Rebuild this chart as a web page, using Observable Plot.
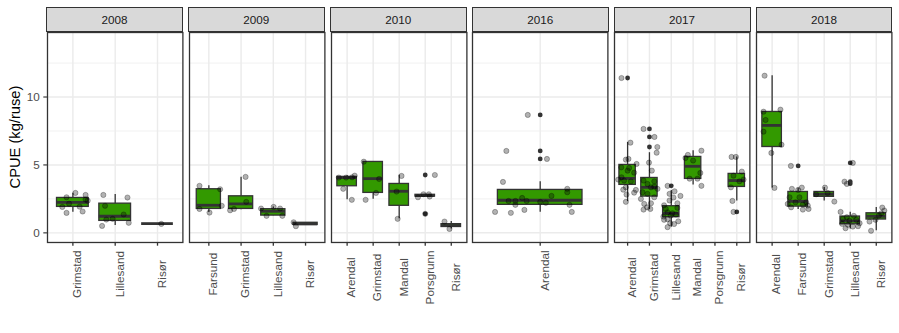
<!DOCTYPE html>
<html><head><meta charset="utf-8">
<script src="https://cdn.jsdelivr.net/npm/d3@7"></script>
<script src="https://cdn.jsdelivr.net/npm/@observablehq/plot@0.6"></script>
<style>
body{margin:0;background:#fff;}
#chart{position:relative;width:899px;height:333px;overflow:hidden;font-family:"Liberation Sans",Arial,sans-serif;}
.strip{position:absolute;box-sizing:border-box;background:#d9d9d9;border:1.4px solid #333;color:#1a1a1a;font-size:11.7px;display:flex;align-items:center;justify-content:center;}
#chart svg{position:absolute;}
.ytitle{position:absolute;left:15px;top:137px;transform:translate(-50%,-50%) rotate(-90deg);white-space:nowrap;font-size:14.7px;color:#000;}
</style></head><body><div id="chart"></div>
<script>
// ---- data ----
const years = ["2008", "2009", "2010", "2016", "2017", "2018"];
const yTicks = [0, 5, 10];
const yMinorTicks = [2.5, 7.5, 12.5];
const yTitle = "CPUE (kg/ruse)";

const sites2008 = ["Grimstad", "Lillesand", "Risør"];
const sites2009 = ["Farsund", "Grimstad", "Lillesand", "Risør"];
const sites2010 = ["Arendal", "Grimstad", "Mandal", "Porsgrunn", "Risør"];
const sites2016 = ["Arendal"];
const sites2017 = ["Arendal", "Grimstad", "Lillesand", "Mandal", "Porsgrunn", "Risør"];
const sites2018 = ["Arendal", "Farsund", "Grimstad", "Lillesand", "Risør"];

// box stats: [site, lower whisker, q1, median, q3, upper whisker]
const box2008 = [["Grimstad",1.51,1.91,2.25,2.57,2.91],["Lillesand",0.54,0.88,1.22,2.15,2.82],["Risør",0.68,0.68,0.68,0.68,0.68]];
const box2009 = [["Farsund",1.49,1.76,2.03,3.21,3.46],["Grimstad",1.70,1.76,2.13,2.69,4.09],["Lillesand",1.25,1.27,1.59,1.74,1.91],["Risør",0.58,0.58,0.66,0.74,0.74]];
const box2010 = [["Arendal",2.43,3.43,4.07,4.12,4.21],["Grimstad",2.47,2.94,3.99,5.22,5.24],["Mandal",1.03,1.99,3.06,3.60,4.24],["Porsgrunn",2.62,2.67,2.74,2.80,2.84],["Risør",0.29,0.43,0.54,0.64,0.83]];
const box2016 = [["Arendal",1.51,2.06,2.40,3.16,3.77]];
const box2017 = [["Arendal",2.30,3.53,4.01,5.00,6.66],["Grimstad",1.71,2.67,3.35,4.04,5.90],["Lillesand",0.42,1.15,1.44,1.96,3.11],["Mandal",3.53,3.97,4.90,5.59,6.05],["Risør",2.35,3.38,3.85,4.34,5.59]];
const box2018 = [["Arendal",3.31,6.32,7.91,8.90,11.57],["Farsund",1.71,1.93,2.32,3.01,3.28],["Grimstad",2.35,2.65,2.84,3.01,3.33],["Lillesand",0.29,0.63,0.88,1.20,1.51],["Risør",0.15,0.98,1.22,1.44,1.86]];

// outliers: [site, value]
const out2008 = [];
const out2009 = [];
const out2010 = [["Porsgrunn",4.26],["Porsgrunn",1.40]];
const out2016 = [["Arendal",8.68],["Arendal",6.03],["Arendal",5.44]];
const out2017 = [["Arendal",11.40],["Grimstad",7.65],["Grimstad",7.06],["Grimstad",6.32],["Lillesand",3.46],["Risør",1.54]];
const out2018 = [["Farsund",4.93],["Lillesand",5.15],["Lillesand",3.77],["Lillesand",3.62]];

// jittered observations: [site, [[value, jitter offset (category units)], ...]]
const pts2008 = [
 ["Grimstad",[[1.91,-0.25],[1.47,-0.15],[2.62,-0.15],[2.15,-0.09],[2.94,0.06],[1.93,0.16],[1.57,0.23],[2.79,0.30],[2.45,0.30],[2.37,0.35]]],
 ["Lillesand",[[2.79,-0.28],[1.99,-0.24],[0.98,-0.21],[0.51,-0.31],[1.03,-0.06],[1.35,0.20],[2.60,0.29],[0.74,0.32]]],
 ["Risør",[[0.66,0.09]]]
];
const pts2009 = [
 ["Farsund",[[3.46,-0.29],[1.76,-0.29],[1.49,0.02],[3.21,0.35],[1.99,0.40]]],
 ["Grimstad",[[4.12,0.14],[2.28,0.16],[1.66,-0.34],[1.76,-0.22]]],
 ["Lillesand",[[1.91,0.01],[1.79,0.21],[1.79,-0.38],[1.25,-0.21],[1.25,0.28]]],
 ["Risør",[[0.78,-0.37],[0.49,-0.30]]]
];
const pts2010 = [
 ["Arendal",[[4.07,-0.32],[4.07,-0.04],[4.09,0.19],[4.21,0.29],[3.24,-0.15],[2.43,0.18]]],
 ["Grimstad",[[5.24,-0.36],[3.97,0.23],[2.94,0.11],[2.43,-0.29]]],
 ["Mandal",[[4.19,0.09],[3.04,-0.10],[1.03,-0.06]]],
 ["Porsgrunn",[[2.62,-0.28],[2.84,-0.07],[2.84,0.14],[2.67,0.17],[4.26,0.37],[1.40,0.0]]],
 ["Risør",[[0.83,-0.26],[0.29,-0.07]]]
];
const pts2016 = [
 ["Arendal",[[8.68,-0.11],[6.03,-0.30],[5.44,0.06],[3.75,-0.33],[3.24,0.24],[2.99,0.24],[2.72,0.10],[2.57,-0.16],[2.35,-0.28],[2.35,-0.22],[2.35,-0.12],[2.28,0.0],[2.21,0.05],[2.06,-0.22],[2.06,0.26],[1.54,-0.40],[1.47,-0.26],[1.69,-0.14],[1.54,0.28]]]
];
const pts2017 = [
 ["Arendal",[[11.4,-0.28],[6.64,0.13],[5.44,0.04],[5.39,-0.08],[5.07,0.41],[4.82,-0.29],[4.78,0.07],[4.58,0],[4.43,0.30],[4.09,-0.28],[3.92,-0.43],[3.85,-0.16],[3.79,0.15],[3.35,-0.08],[3.18,-0.20],[3.16,0.38],[2.96,0.30],[2.82,-0.05],[2.28,-0.08]]],
 ["Grimstad",[[7.65,-0.27],[7.06,0.23],[6.32,0.36],[5.90,0.33],[5.17,-0.02],[4.58,0.11],[3.85,-0.27],[3.60,-0.09],[3.79,0.22],[3.35,0.07],[3.40,0.22],[3.24,0.37],[2.99,-0.32],[2.87,-0.09],[2.50,-0.39],[2.62,0.22],[2.13,-0.24],[1.88,-0.11],[2.18,0.07],[1.76,0.04],[1.71,-0.27]]],
 ["Lillesand",[[3.46,-0.17],[3.06,0.15],[2.87,-0.08],[2.72,0.42],[2.60,0.10],[2.38,-0.08],[2.18,0.28],[2.03,-0.33],[1.76,-0.25],[1.84,0.28],[1.51,-0.17],[1.44,0.05],[1.20,-0.36],[1.27,-0.02],[1.35,0.21],[1.00,-0.17],[0.85,0.32],[0.65,0.13],[0.42,-0.17],[0.96,-0.33],[0.71,-0.05]]],
 ["Mandal",[[6.05,0.38],[5.74,-0.24],[5.51,-0.35],[5.32,0],[4.41,0.33],[3.99,-0.16],[3.99,0.20],[3.46,0.38]]],
 ["Risør",[[5.59,-0.24],[5.59,-0.04],[4.51,0.23],[4.21,-0.15],[3.92,0.31],[3.79,0.12],[3.35,-0.27],[2.35,-0.20],[1.54,-0.15]]]
];
const pts2018 = [
 ["Arendal",[[11.57,-0.29],[9.07,0.32],[8.92,-0.33],[8.31,-0.25],[7.45,-0.33],[6.49,0.36],[5.88,-0.03],[3.31,0.09]]],
 ["Farsund",[[4.93,-0.28],[3.24,-0.24],[3.33,0.14],[3.16,0],[2.62,-0.33],[2.62,0.05],[2.25,-0.10],[2.25,0.31],[2.13,-0.40],[2.08,0.18],[1.88,-0.27],[2.01,0.37],[1.71,0.18],[1.76,0.40]]],
 ["Grimstad",[[3.33,0.03],[2.84,-0.31],[2.94,0.13],[2.30,0.39]]],
 ["Lillesand",[[5.15,0.10],[3.77,-0.22],[3.60,-0.13],[1.54,-0.37],[1.25,0.14],[1.15,-0.13],[1.03,-0.28],[0.96,0.23],[0.90,-0.03],[0.71,0.36],[0.66,-0.31],[0.59,-0.09],[0.49,0.30],[0.34,-0.18],[0.46,0.10]]],
 ["Risør",[[1.86,0.23],[1.64,0.31],[1.44,0.19],[1.27,0.10],[0.96,-0.03],[0.83,-0.26],[0.15,-0.20]]]
];

const yDomain = [-0.71, 14.75];

// ---- layout ----
const sitesList = [sites2008, sites2009, sites2010, sites2016, sites2017, sites2018];
const boxList = [box2008, box2009, box2010, box2016, box2017, box2018];
const outList = [out2008, out2009, out2010, out2016, out2017, out2018];
const ptsList = [pts2008, pts2009, pts2010, pts2016, pts2017, pts2018];

const chart = document.getElementById("chart");
const FONT = "'Liberation Sans', Arial, sans-serif";
const PW = 135.4, STEP = 141.93, LEFT0 = 46.7;
const ctx = document.createElement("canvas").getContext("2d");
ctx.font = "11.7px 'Liberation Sans'";

const title = document.createElement("div");
title.className = "ytitle";
title.textContent = yTitle;
chart.appendChild(title);

years.forEach((year, k) => {
  const sites = sitesList[k];
  const n = sites.length;
  const idx = s => sites.indexOf(s) + 1;
  const boxes = boxList[k].map(([s, lo, q1, med, q3, hi]) => ({i: idx(s), lo, q1, med, q3, hi}));
  const outs = outList[k].map(([s, v]) => ({i: idx(s), v}));
  const pts = ptsList[k].flatMap(([s, arr]) => arr.map(([v, j]) => ({x: idx(s) + j, v})));
  const ticks = d3.range(1, n + 1);
  const maxLen = d3.max(sites, s => ctx.measureText(s).width);
  const panelLeft = LEFT0 + k * STEP;
  const ml = k === 0 ? 47 : 3, mr = 3;

  const strip = document.createElement("div");
  strip.className = "strip";
  strip.style.left = (panelLeft - 0.7) + "px";
  strip.style.top = "6.6px";
  strip.style.width = (PW + 1.4) + "px";
  strip.style.height = "25.8px";
  strip.textContent = year;
  chart.appendChild(strip);

  const plot = Plot.plot({
    width: ml + PW + mr,
    height: 303,
    marginTop: 2, marginBottom: 91, marginLeft: ml, marginRight: mr,
    x: {domain: [0.4, n + 0.6], label: null},
    y: {domain: yDomain, label: null, ...(k === 0 ? {} : {axis: null})},
    style: {background: "transparent", overflow: "visible", fontFamily: FONT, fontSize: "11.7px"},
    marks: [
      Plot.gridY(yMinorTicks, {stroke: "#ebebeb", strokeOpacity: 1, strokeWidth: 0.71}),
      Plot.gridY(yTicks, {stroke: "#ebebeb", strokeOpacity: 1, strokeWidth: 1.42}),
      Plot.gridX(ticks, {stroke: "#ebebeb", strokeOpacity: 1, strokeWidth: 1.42}),
      Plot.ruleX(boxes, {x: "i", y1: "q3", y2: "hi", stroke: "#333333", strokeWidth: 1.3}),
      Plot.ruleX(boxes, {x: "i", y1: "lo", y2: "q1", stroke: "#333333", strokeWidth: 1.3}),
      Plot.rect(boxes, {x1: d => d.i - 0.375, x2: d => d.i + 0.375, y1: "q1", y2: "q3", fill: "#339900", stroke: "#333333", strokeWidth: 1.3}),
      Plot.ruleY(boxes, {y: "med", x1: d => d.i - 0.375, x2: d => d.i + 0.375, stroke: "#333333", strokeWidth: 2.8}),
      Plot.dot(outs, {x: "i", y: "v", r: 2.4, fill: "#333333", stroke: "none"}),
      Plot.dot(pts, {x: "x", y: "v", r: 2.6, fill: "black", fillOpacity: 0.3, stroke: "black", strokeOpacity: 0.3, strokeWidth: 0.9}),
      Plot.frame({stroke: "#333333", strokeWidth: 1.3}),
      Plot.axisX(ticks, {tickSize: 3.7, tickFormat: () => "", stroke: "#333333", strokeWidth: 1.3, label: null}),
      Plot.text(ticks, {x: d => d, text: d => sites[d - 1], frameAnchor: "bottom", rotate: -90, textAnchor: "middle", lineAnchor: "top", dy: 8 + maxLen / 2, fontSize: 11.7, fill: "#4d4d4d"}),
      k === 0 ? Plot.axisY(yTicks, {tickSize: 3.7, tickPadding: 4, fontSize: 11.7, color: "#4d4d4d", strokeWidth: 1.3, label: null}) : null
    ]
  });
  plot.style.left = (panelLeft - ml) + "px";
  plot.style.top = "30px";
  chart.appendChild(plot);
});
</script></body></html>
